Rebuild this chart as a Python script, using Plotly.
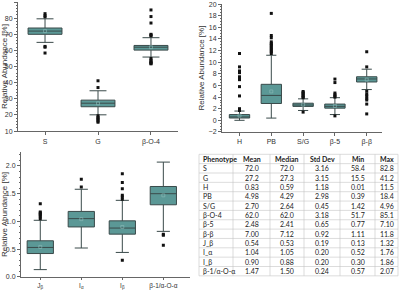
import plotly.graph_objects as go

# ---------------- data ----------------
cats1 = ["S", "G", "β-O-4"]
q1_1 = [70.0, 25.1, 60.2]
med_1 = [72.0, 27.3, 62.0]
q3_1 = [73.9, 29.2, 63.1]
lo_1 = [65.0, 20.1, 55.9]
hi_1 = [79.6, 35.0, 67.9]
mean_1 = [72.0, 27.2, 62.0]
out_x1 = ["S"] * 6 + ["G"] * 8 + ["β-O-4"] * 12
out_y1 = [82.8, 81.5, 80.8, 62.5, 62.0, 58.4,
          41.2, 37.0, 19.5, 18.5, 17.8, 17.0, 16.2, 15.5,
          85.1, 81.0, 77.0, 70.0, 69.5, 69.0, 55.0, 54.0, 53.2, 52.5, 52.0, 51.7]

cats2 = ["H", "PB", "S/G", "β-5", "β-β"]
q1_2 = [0.40, 2.90, 2.40, 2.10, 6.60]
med_2 = [0.59, 4.29, 2.64, 2.41, 7.12]
q3_2 = [1.00, 6.20, 2.95, 2.80, 7.50]
lo_2 = [0.01, 0.39, 1.70, 1.00, 5.30]
hi_2 = [1.60, 11.2, 3.70, 3.90, 8.80]
mean_2 = [0.83, 4.98, 2.70, 2.48, 7.00]
out_x2 = (["H"] * 14 + ["PB"] * 12 + ["S/G"] * 8 + ["β-5"] * 7 + ["β-β"] * 9)
out_y2 = [11.5, 9.2, 8.5, 8.2, 7.5, 7.3, 7.1, 7.0, 5.8, 4.2, 2.0, 1.9, 1.8, 1.7,
          18.4, 14.6, 14.2, 13.5, 13.2, 13.0, 12.8, 12.5, 12.3, 12.0, 11.8, 11.5,
          4.96, 4.8, 4.6, 4.4, 4.2, 4.0, 3.9, 1.42,
          7.10, 6.5, 4.7, 4.4, 4.2, 4.0, 0.77,
          11.8, 9.2, 5.0, 4.5, 4.2, 3.8, 3.5, 2.8, 1.11]

cats3 = ["J<sub>β</sub>", "I<sub>α</sub>", "I<sub>β</sub>", "β-1/α-O-α"]
q1_3 = [0.42, 0.90, 0.77, 1.30]
med_3 = [0.53, 1.05, 0.88, 1.50]
q3_3 = [0.65, 1.18, 1.01, 1.63]
lo_3 = [0.13, 0.52, 0.44, 0.82]
hi_3 = [1.02, 1.58, 1.38, 2.07]
mean_3 = [0.54, 1.04, 0.90, 1.47]
out_x3 = ([cats3[0]] * 7 + [cats3[1]] * 2 + [cats3[2]] * 7 + [cats3[3]] * 3)
out_y3 = [1.32, 1.17, 1.15, 1.13, 1.11, 1.08, 1.05,
          1.76, 1.62,
          1.86, 1.70, 1.59, 1.47, 1.44, 1.40, 0.30,
          0.77, 0.75, 0.57]

tbl_header = ["Phenotype", "Mean", "Median", "Std Dev", "Min", "Max"]
tbl_pheno = ["S", "G", "H", "PB", "S/G", "β-O-4", "β-5", "β-β", "J_β", "I_α", "I_β", "β-1/α-O-α"]
tbl_mean = ["72.0", "27.2", "0.83", "4.98", "2.70", "62.0", "2.48", "7.00", "0.54", "1.04", "0.90", "1.47"]
tbl_median = ["72.0", "27.3", "0.59", "4.29", "2.64", "62.0", "2.41", "7.12", "0.53", "1.05", "0.88", "1.50"]
tbl_std = ["3.16", "3.15", "1.18", "2.98", "0.45", "3.18", "0.65", "0.92", "0.19", "0.20", "0.20", "0.24"]
tbl_min = ["58.4", "15.5", "0.01", "0.39", "1.42", "51.7", "0.77", "1.11", "0.13", "0.52", "0.30", "0.57"]
tbl_max = ["82.8", "41.2", "11.5", "18.4", "4.96", "85.1", "7.10", "11.8", "1.32", "1.76", "1.86", "2.07"]

# ---------------- style ----------------
W, H = 400, 292
BOX_FILL = "#5b9896"
BOX_LINE = "#3a4a4a"
AX_COL = "#666666"
FONT = "Liberation Sans"
TFONT = "Lato"

fig = go.Figure()

panels = [
    (cats1, q1_1, med_1, q3_1, lo_1, hi_1, mean_1, out_x1, out_y1, "x", "y"),
    (cats2, q1_2, med_2, q3_2, lo_2, hi_2, mean_2, out_x2, out_y2, "x2", "y2"),
    (cats3, q1_3, med_3, q3_3, lo_3, hi_3, mean_3, out_x3, out_y3, "x3", "y3"),
]
for cats, q1, med, q3, lo, hi, mn, ox, oy, xa, ya in panels:
    fig.add_trace(go.Box(
        x=cats, q1=q1, median=med, q3=q3, lowerfence=lo, upperfence=hi,
        boxpoints=False, fillcolor=BOX_FILL, line=dict(color=BOX_LINE, width=1),
        whiskerwidth=0.5, width=0.64, xaxis=xa, yaxis=ya, showlegend=False,
    ))
    fig.add_trace(go.Scatter(
        x=ox, y=oy, mode="markers", xaxis=xa, yaxis=ya, showlegend=False,
        marker=dict(symbol="square", size=3, color="#111111"),
    ))
    fig.add_trace(go.Scatter(
        x=cats, y=mn, mode="markers", xaxis=xa, yaxis=ya, showlegend=False,
        marker=dict(symbol="square-open", size=3, color="#8fbcbb", line=dict(width=0.6)),
    ))

# ---------------- table (drawn with shapes + annotations) ----------------
col_edges = [199, 233, 270, 304, 340, 375, 398]   # px
row_top, row_h = 154.3, 9.35
columns = [tbl_pheno, tbl_mean, tbl_median, tbl_std, tbl_min, tbl_max]
n_rows = len(tbl_pheno) + 1

def px(x):
    return x / W

def py(y):
    return 1 - y / H

shapes = []
for k in range(n_rows + 1):
    y = row_top + k * row_h
    shapes.append(dict(type="line", xref="paper", yref="paper",
                       x0=px(col_edges[0]), x1=px(col_edges[-1]), y0=py(y), y1=py(y),
                       line=dict(color="#c4c4c4", width=0.6)))
for xe in col_edges:
    shapes.append(dict(type="line", xref="paper", yref="paper",
                       x0=px(xe), x1=px(xe), y0=py(row_top), y1=py(row_top + n_rows * row_h),
                       line=dict(color="#c4c4c4", width=0.6)))

annotations = []
for c, (hdr, vals) in enumerate(zip(tbl_header, columns)):
    rows = ["<b>" + hdr + "</b>"] + vals
    for r, txt in enumerate(rows):
        yc = row_top + (r + 0.5) * row_h
        if c == 0:
            xpos, xanchor = px(col_edges[0] + 2), "left"
        else:
            xpos, xanchor = px((col_edges[c] + col_edges[c + 1]) / 2), "center"
        annotations.append(dict(text=txt, x=xpos, y=py(yc), xref="paper", yref="paper",
                                xanchor=xanchor, yanchor="middle", showarrow=False,
                                font=dict(family=TFONT, size=7, color="#222")))

def xax(domain, rng, anchor, ticklen=3, fsize=7):
    return dict(domain=domain, range=rng, type="category", showline=True, anchor=anchor,
                linecolor=AX_COL, linewidth=1, ticks="outside", ticklen=ticklen,
                tickcolor=AX_COL, showgrid=False, zeroline=False, automargin=False,
                tickfont=dict(family=FONT, size=fsize, color="#333"))

def yax(domain, rng, dtick, anchor, fmt=None):
    d = dict(domain=domain, range=rng, dtick=dtick, tick0=0, showline=True,
             linecolor=AX_COL, linewidth=1, ticks="outside", ticklen=3,
             tickcolor=AX_COL, showgrid=False, zeroline=False, anchor=anchor,
             automargin=False,
             tickfont=dict(family=FONT, size=7, color="#333"),
             title=dict(text="Relative Abundance [%]", standoff=2,
                        font=dict(family=FONT, size=8, color="#333")),
             minor=dict(ticks="outside", ticklen=1.5, tickcolor=AX_COL))
    if fmt:
        d["tickformat"] = fmt
    return d

fig.update_layout(
    width=W, height=H,
    margin=dict(l=0, r=0, t=0, b=0),
    paper_bgcolor="white", plot_bgcolor="white",
    boxmode="overlay",
    shapes=shapes, annotations=annotations,
    xaxis=xax([0.045, 0.445], [-0.51, 2.51], "y"),
    yaxis=yax([0.551, 0.993], [10, 90], 10, "x"),
    xaxis2=xax([0.555, 0.955], [-0.55, 4.48], "y2"),
    yaxis2=yax([0.548, 0.986], [-2, 20], 2, "x2"),
    xaxis3=xax([0.0525, 0.475], [-0.47, 3.65], "y3", ticklen=2, fsize=6.5),
    yaxis3=yax([0.052, 0.479], [0, 2.25], 0.5, "x3", ".1f"),
)

fig.write_html("out.html", config={"displayModeBar": False},
               post_script="document.body.style.margin='0';document.body.style.overflow='hidden';")
